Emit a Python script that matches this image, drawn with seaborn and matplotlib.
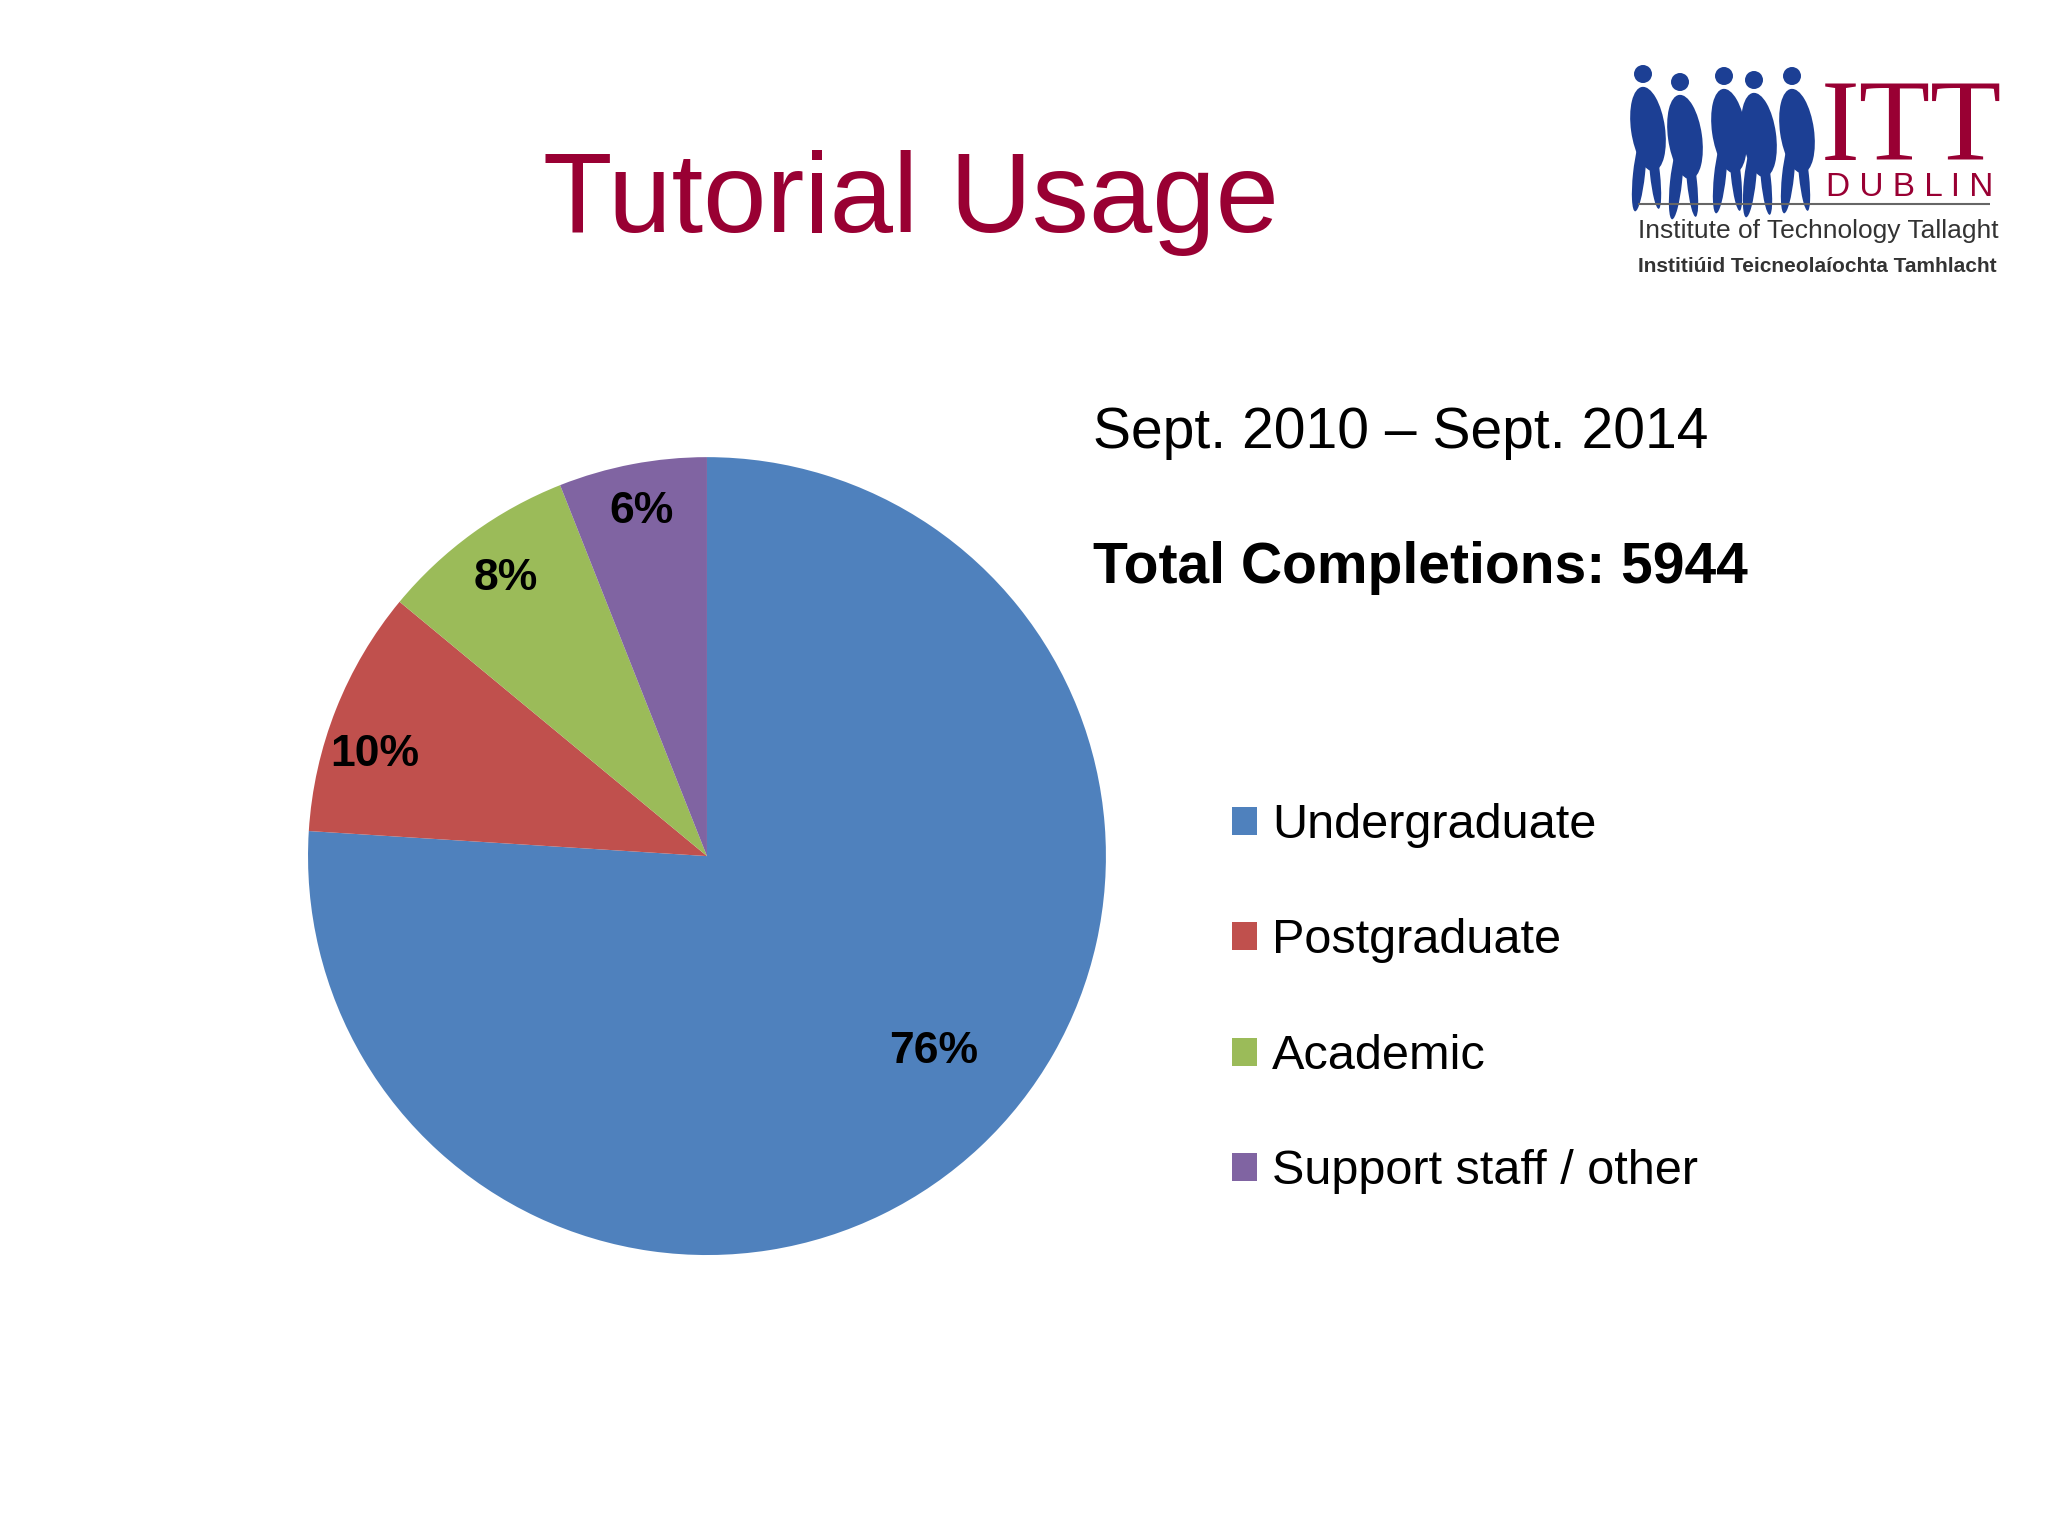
import numpy as np
import matplotlib
matplotlib.use('Agg')
import matplotlib.pyplot as plt
from matplotlib.patches import Ellipse, Circle
import seaborn as sns

# Datos del gráfico
categorias = ['Undergraduate', 'Postgraduate', 'Academic', 'Support staff / other']
porcentajes = [76, 10, 8, 6]
colores = ['#4F81BD', '#C0504D', '#9BBB59', '#8064A2']
titulo = 'Tutorial Usage'
periodo = 'Sept. 2010 – Sept. 2014'
total_completions = 5944

# Ajustes de posición de las etiquetas (radio y desplazamiento angular)
radio_etiqueta = [0.75, 0.87, 0.86, 0.88]
giro_etiqueta = [6.0, 4.5, 0.0, 0.0]

sns.set_theme(style='white')
plt.rcParams['font.family'] = ['Liberation Sans', 'DejaVu Sans']

ROJO_ITT = '#990033'
AZUL_ITT = '#1C3F94'
GRIS_LOGO = '#333333'


def dibujar_pastel(fig):
    """Dibuja el gráfico circular con las etiquetas de porcentaje."""
    ax = fig.add_axes([0.1504, 0.1829, 0.3896, 0.5195])
    cunas, _, etiquetas = ax.pie(
        porcentajes, colors=colores, startangle=90, counterclock=False,
        autopct='%.0f%%', pctdistance=0.87,
        textprops=dict(fontsize=32, fontweight='bold', color='black'),
        wedgeprops=dict(linewidth=0))
    for cuna, txt, r, giro in zip(cunas, etiquetas, radio_etiqueta, giro_etiqueta):
        ang = np.deg2rad((cuna.theta1 + cuna.theta2) / 2 + giro)
        txt.set_position((r * np.cos(ang), r * np.sin(ang)))
    ax.set_xlim(-1, 1)
    ax.set_ylim(-1, 1)
    ax.set_aspect('equal')
    ax.axis('off')
    return cunas


def dibujar_logo(ov):
    """Logo aproximado de ITT Dublin."""
    cabezas = [(1643, 74), (1680, 82), (1724, 76), (1754, 80), (1792, 76)]
    for (x, y) in cabezas:
        ov.add_patch(Circle((x, y), 9, color=AZUL_ITT, lw=0))
        ov.add_patch(Ellipse((x + 5, y + 55), 34, 85, angle=-8, color=AZUL_ITT, lw=0))
        ov.add_patch(Ellipse((x - 4, y + 100), 12, 75, angle=6, color=AZUL_ITT, lw=0))
        ov.add_patch(Ellipse((x + 12, y + 100), 10, 70, angle=-6, color=AZUL_ITT, lw=0))
    ov.text(1821, 160, 'ITT', fontsize=84, color=ROJO_ITT,
            family=['Liberation Serif', 'DejaVu Serif'], va='baseline')
    ov.text(1826, 196, 'D U B L I N', fontsize=24, color=ROJO_ITT, va='baseline')
    ov.hlines(204, 1638, 1990, color='#666666', lw=1.5)
    ov.text(1638, 238, 'Institute of Technology Tallaght', fontsize=19,
            color=GRIS_LOGO, va='baseline')
    ov.text(1638, 272, 'Institiúid Teicneolaíochta Tamhlacht', fontsize=15,
            color=GRIS_LOGO, fontweight='bold', va='baseline')


def main():
    fig = plt.figure(figsize=(20.48, 15.36), dpi=100)
    fig.patch.set_facecolor('white')
    cunas = dibujar_pastel(fig)

    ov = fig.add_axes([0, 0, 1, 1])
    ov.set_xlim(0, 2048)
    ov.set_ylim(1536, 0)
    ov.axis('off')

    ov.text(911, 232, titulo, ha='center', va='baseline', fontsize=82, color=ROJO_ITT)
    ov.text(1093, 448, periodo, va='baseline', fontsize=41, color='black')
    ov.text(1093, 583, f'Total Completions: {total_completions}', va='baseline',
            fontsize=41, fontweight='bold', color='black')

    fig.legend(cunas, categorias, loc='upper left',
               bbox_to_anchor=(1232 / 2048, 1 - 803 / 1536), frameon=False,
               fontsize=35, labelcolor='black', handlelength=0.52, handleheight=0.52,
               handletextpad=0.3, labelspacing=1.45, borderpad=0, borderaxespad=0)

    dibujar_logo(ov)
    fig.savefig('out.png', dpi=100, facecolor='white')


if __name__ == "__main__":
    main()
